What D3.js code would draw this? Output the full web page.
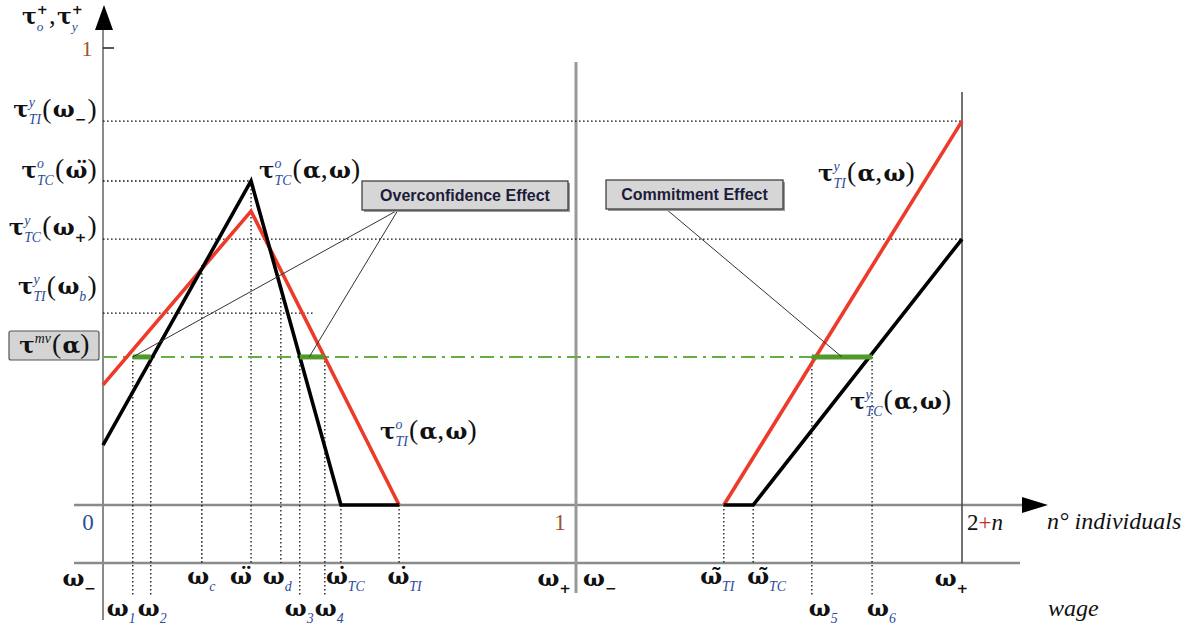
<!DOCTYPE html>
<html><head><meta charset="utf-8">
<script src="https://cdn.jsdelivr.net/npm/d3@7"></script>
<style>body{margin:0;background:#fff;overflow:hidden}</style>
</head><body><svg id="c" width="1201" height="628"></svg>
<script>
// ---------------- DATA ----------------
// wage positions (left panel 0..1 = ω− .. ω+, right panel 1..2 = ω− .. ω+)
const wageKeys   = ["w1","w2","wc","wdd","wd","w3","w4","wTCdot","wTIdot","wTItil","wTCtil","w5","w6"];
const wageValues = [0.063,0.101,0.209,0.313,0.376,0.416,0.469,0.503,0.626,1.383,1.459,1.611,1.767];
const wageBase   = ["ω","ω","ω","ω\u0308","ω","ω","ω","ω\u0307","ω\u0307","ω\u0303","ω\u0303","ω","ω"];
const wageSub    = ["1","2","c","","d","3","4","TC","TI","TI","TC","5","6"];
const wageRow    = [2,2,1,1,1,2,2,1,1,1,1,2,2];
const wageGuideTop = [0.324,0.324,0.525,0.709,0.453,0.324,0.324,0,0,0,0,0.324,0.324];
const wageEndValues = [0,1,1,2];
const wageEndSub    = ["−","+","−","+"];

// tau axis
const tauMV = 0.324;
const yLevelValues = [0.840,0.709,0.582,0.420];
const yLevelSup    = ["y","o","y","y"];
const yLevelSub    = ["TI","TC","TC","TI"];
const yLevelArgBase= ["ω","ω\u0308","ω","ω"];
const yLevelArgSub = ["−","","+","b"];
const yLevelGuideEnd = [2,0.313,2,0.443];
const nTickValues = [0,1,2];
const nTickLabels = ["0","1","2+n"];

// curves: [wage, tau]
const tauO_TC = [[0,0.131],[0.313,0.709],[0.503,0],[0.626,0]];
const tauO_TI = [[0,0.263],[0.313,0.643],[0.626,0]];
const tauY_TI = [[1.383,0],[2,0.840]];
const tauY_TC = [[1.383,0],[1.459,0],[2,0.582]];
const greenSegs = [[0.063,0.101],[0.416,0.469],[1.611,1.767]];

// ---------------- SCALES ----------------
const svg = d3.select("#c");
const x = d3.scaleLinear().domain([0,1,2]).range([103,576,962]);
const y = d3.scaleLinear().domain([0,1]).range([505,48]);
const Y_WAGE = 563;

const F = {serif:"'DejaVu Serif', serif", lib:"'Liberation Serif', serif", sans:"'Liberation Sans', Arial, sans-serif"};
const BLUE = "#2b4b9b", RED = "#ee3a2a", GREEN = "#4f9a28", GDASH = "#66ad44";

// rich text helper
function rich(parent, segs, size, px, py, anchor) {
  const g = parent.append("g");
  let cx = 0;
  for (const s of segs) {
    if (s.k === "S") {
      let w = 0; const small = size*0.6;
      if (s.sup) {
        const t = g.append("text").attr("x", cx).attr("y", -size*0.45)
          .attr("font-family", s.supF||F.lib).attr("font-style", s.supF?"normal":"italic")
          .attr("font-weight", s.supB?"bold":"normal").attr("font-size", small)
          .attr("fill", s.supC||BLUE).text(s.sup);
        w = Math.max(w, t.node().getComputedTextLength());
      }
      if (s.sub) {
        const t = g.append("text").attr("x", cx).attr("y", size*0.3)
          .attr("font-family", s.subF||F.lib).attr("font-style", s.subF?"normal":"italic")
          .attr("font-weight", s.subB?"bold":"normal").attr("font-size", s.subS||small)
          .attr("fill", s.subC||BLUE).text(s.sub);
        w = Math.max(w, t.node().getComputedTextLength());
      }
      cx += w + size*0.05;
    } else {
      const isB = s.k === "B";
      const t = g.append("text").attr("x", cx).attr("y", isB?0:size*0.02)
        .attr("font-family", isB?F.serif:F.lib).attr("font-weight", isB?"bold":"normal")
        .attr("font-size", isB?size:size*1.2).attr("fill", s.c||"#111").text(s.t);
      cx += t.node().getComputedTextLength() + (isB?0:size*0.06);
    }
  }
  const off = anchor==="end"?-cx:anchor==="middle"?-cx/2:0;
  g.attr("transform", `translate(${px+off},${py})`);
  return cx;
}
const B = t => ({k:"B", t});
const P = t => ({k:"P", t});
function subSeg(s) {
  if (s === "−" || s === "+") return {k:"S", sub:s, subC:"#111", subB:true, subF:F.serif};
  return {k:"S", sub:s};
}
function omega(base, sub) { return sub ? [B(base), subSeg(sub)] : [B(base)]; }
function tau(sup, sub, arg) { return [B("τ"), {k:"S", sup, sub}, ...arg]; }
const argAW = [P("("), B("α"), P(" ,"), B("ω"), P(")")];

// ---------------- AXES / FRAME ----------------
const axisC = "#8a8a8a";
svg.append("line").attr("x1",103).attr("x2",103).attr("y1",28).attr("y2",620).attr("stroke",axisC).attr("stroke-width",2);
svg.append("path").attr("d","M104,5 L95,30 L113,30 Z").attr("fill","#000");
svg.append("line").attr("x1",103).attr("x2",114).attr("y1",y(1)).attr("y2",y(1)).attr("stroke","#222").attr("stroke-width",1.5);
svg.append("text").attr("x",87).attr("y",y(1)+8).attr("text-anchor","middle").attr("font-family",F.lib)
  .attr("font-size",22).attr("fill","#a0522d").text("1");
svg.append("line").attr("x1",74).attr("x2",1024).attr("y1",y(0)).attr("y2",y(0)).attr("stroke",axisC).attr("stroke-width",2.5);
svg.append("path").attr("d",`M1022,${y(0)-8} L1048,${y(0)} L1022,${y(0)+8} Z`).attr("fill","#000");
svg.append("line").attr("x1",74).attr("x2",1020).attr("y1",Y_WAGE).attr("y2",Y_WAGE).attr("stroke",axisC).attr("stroke-width",2.5);
svg.append("line").attr("x1",x(1)).attr("x2",x(1)).attr("y1",62).attr("y2",593).attr("stroke","#999").attr("stroke-width",3);
svg.append("line").attr("x1",x(2)).attr("x2",x(2)).attr("y1",92).attr("y2",Y_WAGE).attr("stroke","#444").attr("stroke-width",1.5);

// ---------------- GUIDES ----------------
const dot = {stroke:"#111", w:1.3, dash:"1.6,2.4"};
yLevelValues.forEach((v,i)=>{
  svg.append("line").attr("x1",x(0)).attr("x2",x(yLevelGuideEnd[i])).attr("y1",y(v)).attr("y2",y(v))
    .attr("stroke",dot.stroke).attr("stroke-width",dot.w).attr("stroke-dasharray",dot.dash);
});
wageValues.forEach((v,i)=>{
  const bottom = wageRow[i]===2 ? 597 : Y_WAGE;
  svg.append("line").attr("x1",x(v)).attr("x2",x(v)).attr("y1",y(wageGuideTop[i])).attr("y2",bottom)
    .attr("stroke",dot.stroke).attr("stroke-width",dot.w).attr("stroke-dasharray",dot.dash);
});
svg.append("line").attr("x1",x(0)).attr("x2",x(1.767)).attr("y1",y(tauMV)).attr("y2",y(tauMV))
  .attr("stroke",GDASH).attr("stroke-width",2).attr("stroke-dasharray","14,6,3,6");

// ---------------- CURVES ----------------
const line = d3.line().x(d=>x(d[0])).y(d=>y(d[1]));
[[tauO_TI,RED],[tauO_TC,"#000"],[tauY_TI,RED],[tauY_TC,"#000"]].forEach(([d,c])=>{
  svg.append("path").attr("d",line(d)).attr("fill","none").attr("stroke",c).attr("stroke-width",3.6).attr("stroke-linejoin","miter");
});
greenSegs.forEach(s=>{
  svg.append("line").attr("x1",x(s[0])).attr("x2",x(s[1])).attr("y1",y(tauMV)).attr("y2",y(tauMV))
    .attr("stroke",GREEN).attr("stroke-width",5);
});

// ---------------- CALLOUTS ----------------
function callout(bx,by,bw,bh,text,fs,anchors){
  anchors.forEach(a=>{
    svg.append("line").attr("x1",a[0]).attr("y1",a[1]).attr("x2",a[2]).attr("y2",a[3]).attr("stroke","#333").attr("stroke-width",1);
  });
  svg.append("rect").attr("x",bx+2).attr("y",by+2).attr("width",bw).attr("height",bh).attr("fill","#9a9a9a");
  svg.append("rect").attr("x",bx).attr("y",by).attr("width",bw).attr("height",bh).attr("fill","#d6d6d6").attr("stroke","#333").attr("stroke-width",1.2);
  svg.append("text").attr("x",bx+bw/2).attr("y",by+bh/2+5.5).attr("text-anchor","middle").attr("font-family",F.sans)
    .attr("font-weight","bold").attr("font-size",fs).attr("fill","#1c1c3a").text(text);
}
const g1 = x(greenSegs[0][0]), g2 = (x(greenSegs[1][0])+x(greenSegs[1][1]))/2, g3 = x(greenSegs[2][0])+30;
callout(362,181,206,29,"Overconfidence Effect",16,[[398,210,g1,y(tauMV)],[398,210,g2-3,y(tauMV)]]);
callout(606,180,177,29,"Commitment Effect",16,[[666,209,g3,y(tauMV)]]);

// ---------------- LABELS ----------------
const ySize = 23;
const yNudge = [-4,-3,-4,-19];
yLevelValues.forEach((v,i)=>{
  const arg = [P("("), ...omega(yLevelArgBase[i], yLevelArgSub[i]), P(")")];
  rich(svg, tau(yLevelSup[i], yLevelSub[i], arg), ySize, 98, y(v)+yNudge[i], "end");
});
svg.append("rect").attr("x",9).attr("y",331).attr("width",90).attr("height",29).attr("rx",2)
  .attr("fill","#d4d4d4").attr("stroke","#555").attr("stroke-width",1.2);
rich(svg, [B("τ"),{k:"S",sup:"mv",supC:"#111"},P("("),B("α"),P(")")], ySize, 55, 353, "middle");

rich(svg, [B("τ"),{k:"S",sup:"+",sub:"o",supC:"#111",supB:true,supF:F.serif},P(" ,"),B("τ"),{k:"S",sup:"+",sub:"y",supC:"#111",supB:true,supF:F.serif}], 22, 22, 24, "start");

rich(svg, tau("o","TC",argAW), ySize, 259, 178, "start");
rich(svg, tau("y","TI",argAW), ySize, 818, 181, "start");
rich(svg, tau("y","TC",argAW), ySize, 850, 409, "start");
rich(svg, tau("o","TI",argAW), ySize, 380, 439, "start");

const nColors = ["#2d4f95","#a0522d","#111"];
const nPos = [[88,"middle"],[560,"middle"],[967,"start"]];
nTickValues.forEach((v,i)=>{
  const t = svg.append("text").attr("x",nPos[i][0]).attr("y",y(0)+25).attr("text-anchor",nPos[i][1])
    .attr("font-family",F.lib).attr("font-size",23).attr("fill",nColors[i]);
  if (nTickLabels[i] === "2+n") {
    t.append("tspan").text("2");
    t.append("tspan").attr("fill","#c03030").text("+");
    t.append("tspan").attr("font-style","italic").text("n");
  } else t.text(nTickLabels[i]);
});
svg.append("text").attr("x",1047).attr("y",y(0)+24).attr("font-family",F.lib).attr("font-style","italic")
  .attr("font-size",24).attr("fill","#111").text("n° individuals");
svg.append("text").attr("x",1048).attr("y",616).attr("font-family",F.lib).attr("font-style","italic")
  .attr("font-size",24).attr("fill","#111").text("wage");

const wSize = 23;
const wNudge = {w1:-11,w2:2,wc:0,wdd:-10,wd:-3,w3:0,w4:5,wTCdot:5,wTIdot:6,wTItil:-6,wTCtil:14,w5:12,w6:10};
wageValues.forEach((v,i)=>{
  const py = wageRow[i]===1 ? 584 : 616;
  rich(svg, omega(wageBase[i], wageSub[i]), wSize, x(v)+wNudge[wageKeys[i]], py, "middle");
});
const endPos = [[97,"end"],[572,"end"],[583,"start"],[952,"middle"]];
wageEndValues.forEach((v,i)=>{
  rich(svg, omega("ω", wageEndSub[i]), wSize, endPos[i][0], 586, endPos[i][1]);
});
</script></body></html>
